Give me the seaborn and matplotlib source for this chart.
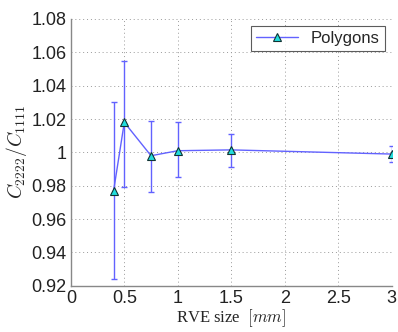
import numpy as np
import pandas as pd
import matplotlib
matplotlib.use('Agg')
import matplotlib.pyplot as plt
import seaborn as sns

# RVE size [mm] and stiffness ratio
rve_size = [0.4, 0.5, 0.75, 1.0, 1.5, 3.0]
ratio = [0.977, 1.018, 0.998, 1.001, 1.0015, 0.999]
err_upper = [1.030, 1.055, 1.019, 1.018, 1.011, 1.004]
err_lower = [0.924, 0.979, 0.976, 0.985, 0.991, 0.994]

x_ticks = [0, 0.5, 1, 1.5, 2, 2.5, 3]
x_labels = ['0', '0.5', '1', '1.5', '2', '2.5', '3']
y_ticks = [0.92, 0.94, 0.96, 0.98, 1.0, 1.02, 1.04, 1.06, 1.08]
y_labels = ['0.92', '0.94', '0.96', '0.98', '1', '1.02', '1.04', '1.06', '1.08']

df = pd.DataFrame({'size': rve_size, 'ratio': ratio})

sns.set_style('white')
plt.rcParams['font.family'] = ['Liberation Sans', 'DejaVu Sans']
plt.rcParams['mathtext.fontset'] = 'cm'

fig = plt.figure(figsize=(3.98, 3.32), dpi=100)
ax = fig.add_axes([0.178, 0.139, 0.806, 0.804])

line_col = '#6262ff'
yerr = [np.array(ratio) - np.array(err_lower), np.array(err_upper) - np.array(ratio)]
ax.errorbar(rve_size, ratio, yerr=yerr, fmt='none', ecolor=line_col, elinewidth=1.0,
            capsize=2.5, capthick=1.0, zorder=2)
sns.lineplot(data=df, x='size', y='ratio', ax=ax, color=line_col, linewidth=1.0,
             marker='^', markersize=6, markerfacecolor='#22dddd', markeredgecolor='#113333',
             markeredgewidth=0.8, label='Polygons', zorder=3)

ax.set_xlim(0, 3)
ax.set_ylim(0.92, 1.08)
ax.set_xticks(x_ticks)
ax.set_xticklabels(x_labels)
ax.set_yticks(y_ticks)
ax.set_yticklabels(y_labels)
ax.tick_params(axis='both', labelsize=13, length=2, direction='in', colors='#222222', pad=3)

ax.grid(True, linestyle=(0, (1, 3)), color='#999999', linewidth=0.7)
for s in ['top', 'right']:
    ax.spines[s].set_visible(False)
for s in ['left', 'bottom']:
    ax.spines[s].set_color('#888888')
    ax.spines[s].set_linewidth(1.0)

ax.set_xlabel(r'RVE size  $[mm]$', fontsize=12, family='Liberation Serif', labelpad=0)
ax.set_ylabel(r'$C_{2222}/C_{1111}$', fontsize=14, labelpad=2)

leg = ax.legend(loc='upper right', fontsize=12, frameon=True, fancybox=False,
                edgecolor='#333333', handlelength=2.5, borderpad=0.3,
                borderaxespad=0.4)
leg.get_frame().set_linewidth(0.8)

fig.savefig('out.png', dpi=100)
